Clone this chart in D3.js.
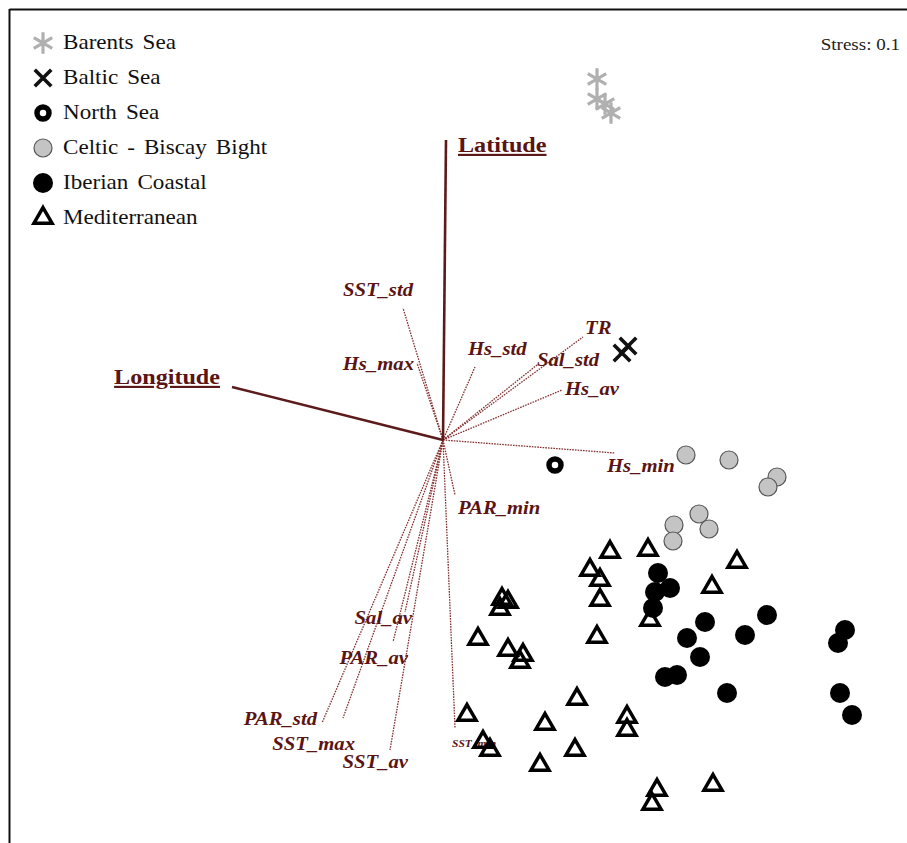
<!DOCTYPE html>
<html>
<head>
<meta charset="utf-8">
<script src="https://cdn.jsdelivr.net/npm/d3@7"></script>
<style>
  html, body { margin: 0; padding: 0; background: #fff; }
  svg { display: block; }
  text { font-family: "Liberation Serif", "Times New Roman", serif; }
</style>
</head>
<body>
<svg id="chart" width="907" height="843"></svg>
<script>
// NMDS ordination of sites (stress 0.1) with fitted environmental vectors

const regions = ["Barents Sea", "Baltic Sea", "North Sea", "Celtic - Biscay Bight", "Iberian Coastal", "Mediterranean"];

// site scores [NMDS1, NMDS2]
const barentsSea = [[0.77, 1.805], [0.77, 1.705], [0.81, 1.68], [0.84, 1.635]];
const balticSea = [[0.895, 0.435], [0.925, 0.47]];
const northSea = [[0.56, -0.125]];
const celticBiscay = [
  [1.215, -0.075], [1.43, -0.10], [1.67, -0.185], [1.625, -0.235],
  [1.28, -0.37], [1.155, -0.425], [1.33, -0.445], [1.15, -0.505]
];
const iberianCoastal = [
  [1.075, -0.665], [1.135, -0.74], [1.06, -0.76], [1.05, -0.84],
  [1.31, -0.91], [1.62, -0.875], [1.22, -0.99], [1.51, -0.975],
  [1.285, -1.085], [1.11, -1.185], [1.17, -1.175], [1.42, -1.265],
  [2.01, -0.95], [1.975, -1.015], [1.985, -1.265], [2.045, -1.375]
];
const mediterranean = [
  [0.835, -0.56], [1.025, -0.55], [1.47, -0.61], [0.735, -0.65],
  [0.785, -0.70], [1.345, -0.735], [0.295, -0.795], [0.325, -0.81],
  [0.285, -0.845], [0.785, -0.80], [1.035, -0.90], [0.175, -0.995],
  [0.77, -0.985], [0.325, -1.05], [0.40, -1.075], [0.385, -1.11],
  [0.67, -1.295], [0.12, -1.375], [0.51, -1.42], [0.92, -1.385],
  [0.92, -1.45], [0.20, -1.51], [0.235, -1.55], [0.66, -1.55],
  [0.485, -1.625], [1.07, -1.75], [1.045, -1.82], [1.35, -1.725]
];

// geographic vectors (solid) and environmental vectors (dotted)
const geoVectorNames = ["Latitude", "Longitude"];
const geoVectors = [[0.015, 1.50], [-1.055, 0.265]];
const envVectorNames = ["SST_std", "Hs_max", "Hs_std", "TR", "Sal_std", "Hs_av", "Hs_min", "PAR_min",
                        "Sal_av", "PAR_av", "PAR_std", "SST_max", "SST_av", "SST_min"];
const envVectors = [
  [-0.20, 0.66], [-0.13, 0.385], [0.16, 0.365], [0.70, 0.515], [0.47, 0.375], [0.595, 0.25],
  [0.86, -0.065], [0.06, -0.275], [-0.19, -0.86], [-0.25, -1.01], [-0.605, -1.415],
  [-0.50, -1.39], [-0.265, -1.55], [0.06, -1.44]
];
const stressValue = 0.1;

// ---- layout ----
const svg = d3.select("#chart");
const x = d3.scaleLinear().domain([-1, 1]).range([243, 643]);
const y = d3.scaleLinear().domain([-1, 1]).range([640, 240]);

const vecColor = "#5c1a1a";
const textColor = "#5a1414";

// frame (top and left edges)
svg.append("line").attr("x1", 9.5).attr("x2", 907).attr("y1", 9.5).attr("y2", 9.5)
  .attr("stroke", "#111").attr("stroke-width", 2);
svg.append("line").attr("x1", 9.5).attr("x2", 9.5).attr("y1", 9).attr("y2", 843)
  .attr("stroke", "#111").attr("stroke-width", 2);

// label placement for vector tips: [dx, dy, anchor]
const labelPlacement = {
  "Latitude": [12, 12, "start"], "Longitude": [-12, -3, "end"],
  "SST_std": [10, -12, "end"], "Hs_max": [-3, 7, "end"], "Hs_std": [-7, -12, "start"],
  "TR": [2, -3, "start"], "Sal_std": [0, 1, "start"], "Hs_av": [3, 5, "start"],
  "Hs_min": [-8, 19, "start"], "PAR_min": [3, 19, "start"], "Sal_av": [7, 12, "end"],
  "PAR_av": [15, 22, "end"], "PAR_std": [-5, 2, "end"], "SST_max": [12, 32, "end"],
  "SST_av": [18, 18, "end"], "SST_min": [-3, 19, "start"]
};

const gVec = svg.append("g");
// dotted environmental vectors
gVec.selectAll("line.env").data(envVectors).join("line")
  .attr("class", "env")
  .attr("x1", x(0)).attr("y1", y(0))
  .attr("x2", d => x(d[0])).attr("y2", d => y(d[1]))
  .attr("stroke", "#83302f").attr("stroke-width", 1.3)
  .attr("stroke-dasharray", "1.6,1.1");
// solid geographic vectors
gVec.selectAll("line.geo").data(geoVectors).join("line")
  .attr("class", "geo")
  .attr("x1", x(0)).attr("y1", y(0))
  .attr("x2", d => x(d[0])).attr("y2", d => y(d[1]))
  .attr("stroke", vecColor).attr("stroke-width", 2.6);

function placeLabel(name, d, size, weight, style, underline) {
  const p = labelPlacement[name];
  const tx = x(d[0]) + p[0], ty = y(d[1]) + p[1];
  gVec.append("text")
    .attr("transform", `translate(${tx},${ty}) scale(1.15,1)`)
    .attr("text-anchor", p[2])
    .attr("font-size", size)
    .attr("font-weight", weight)
    .attr("font-style", style)
    .attr("text-decoration", underline ? "underline" : null)
    .attr("fill", textColor)
    .text(name);
}
envVectorNames.forEach((n, i) => placeLabel(n, envVectors[i], n === "SST_min" ? 10 : 18, "bold", "italic", false));
geoVectorNames.forEach((n, i) => placeLabel(n, geoVectors[i], 21, "bold", "normal", true));

// ---- site symbols ----
const sym = {
  asterisk: d3.symbol(d3.symbolAsterisk, 320)(),
  times: d3.symbol(d3.symbolTimes, 180)(),
  triangle: d3.symbol(d3.symbolTriangle2, 235)()
};
const styles = [
  { data: barentsSea, draw: g => g.append("path").attr("d", sym.asterisk).attr("fill", "none").attr("stroke", "#b0b0b0").attr("stroke-width", 3.2) },
  { data: balticSea, draw: g => g.append("path").attr("d", sym.times).attr("fill", "none").attr("stroke", "#111").attr("stroke-width", 3.6) },
  { data: northSea, draw: g => g.append("circle").attr("r", 6).attr("fill", "#fff").attr("stroke", "#000").attr("stroke-width", 5.5) },
  { data: celticBiscay, draw: g => g.append("circle").attr("r", 9).attr("fill", "#c4c4c4").attr("stroke", "#555").attr("stroke-width", 1.2) },
  { data: iberianCoastal, draw: g => g.append("circle").attr("r", 10).attr("fill", "#000") },
  { data: mediterranean, draw: g => g.append("path").attr("d", sym.triangle).attr("fill", "none").attr("stroke", "#000").attr("stroke-width", 3.5).attr("stroke-linejoin", "miter") }
];

const gPts = svg.append("g");
styles.forEach(s => {
  gPts.append("g").selectAll("g").data(s.data).join("g")
    .attr("transform", d => `translate(${x(d[0])},${y(d[1])})`)
    .each(function () { s.draw(d3.select(this)); });
});

// ---- legend ----
const legend = svg.append("g");
regions.forEach((name, i) => {
  const cy = 43 + i * 35;
  const g = legend.append("g").attr("transform", `translate(43,${cy})`);
  styles[i].draw(g);
  legend.append("text")
    .attr("transform", `translate(63,${cy + 6}) scale(1.1,1)`)
    .attr("font-size", 21)
    .attr("word-spacing", 3)
    .attr("fill", "#111")
    .text(name);
});

// stress annotation
svg.append("text")
  .attr("transform", "translate(900,50) scale(1.12,1)")
  .attr("text-anchor", "end")
  .attr("font-size", 17)
  .attr("fill", "#222")
  .text("Stress: " + stressValue);
</script>
</body>
</html>
